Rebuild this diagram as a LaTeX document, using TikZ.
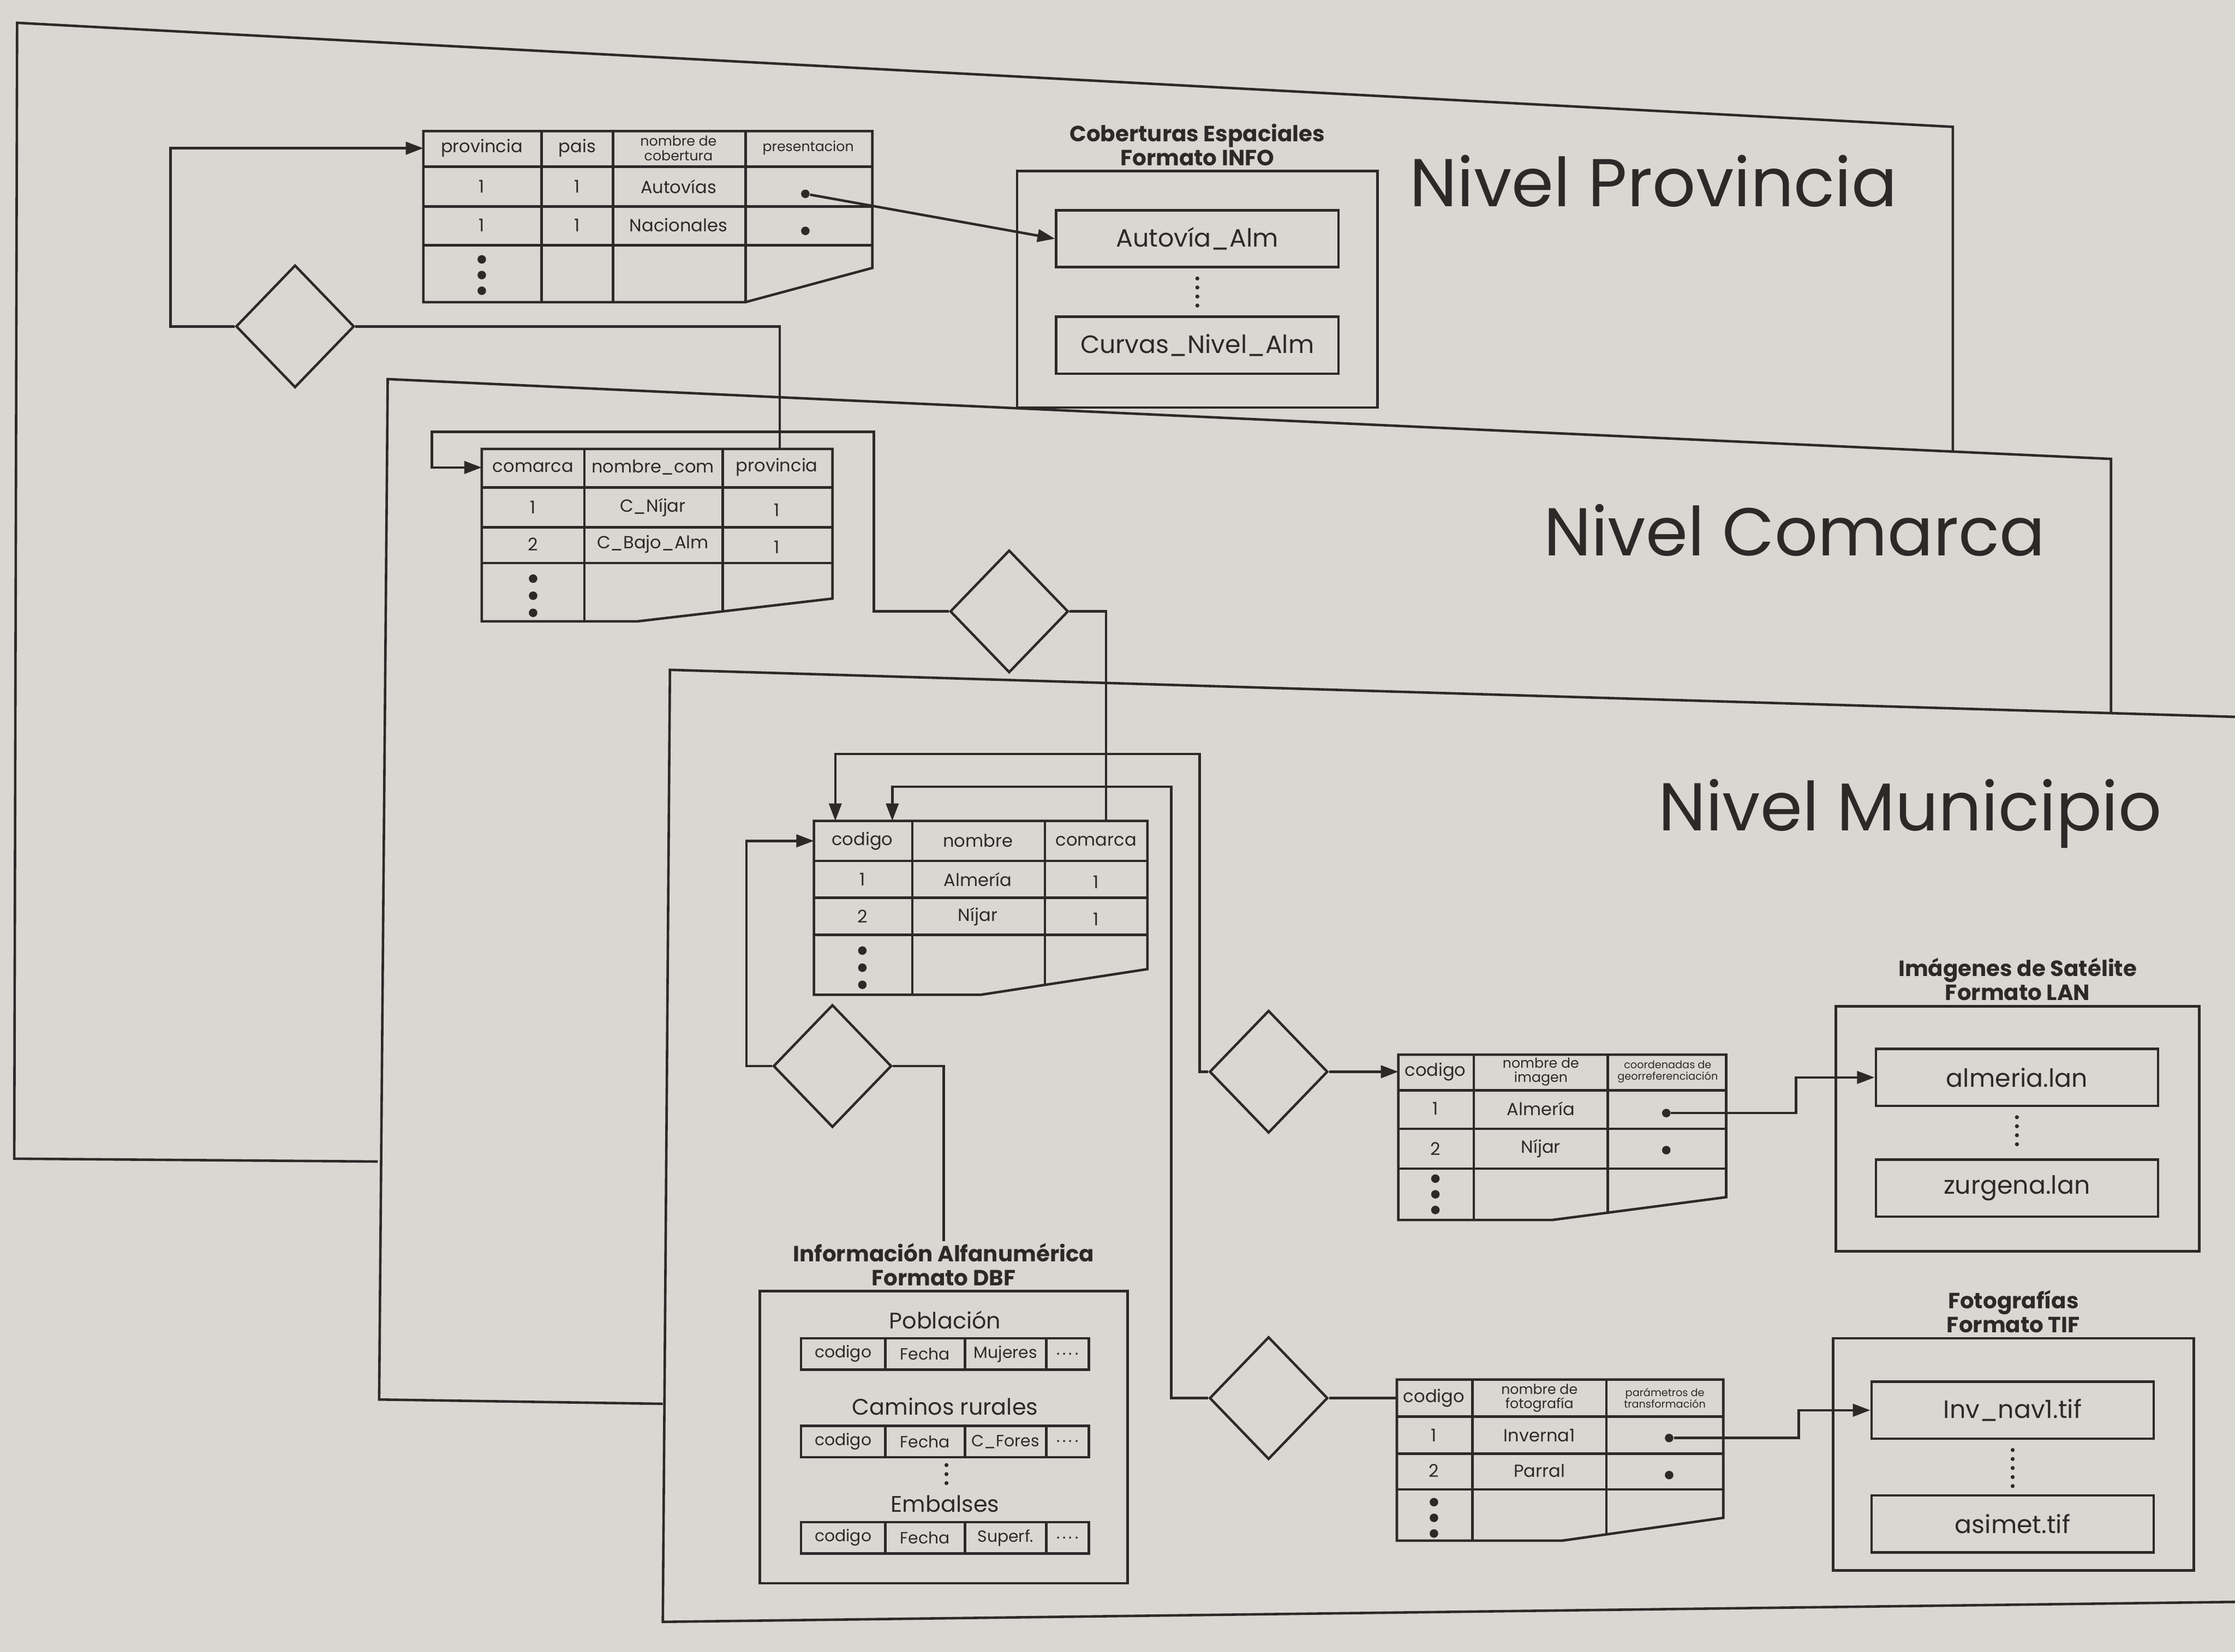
\documentclass[tikz,border=0pt]{standalone}
\usepackage{fontspec}
\setmainfont{Poppins}
\usepackage{tikz}
\usetikzlibrary{arrows.meta, positioning, shapes.geometric, calc}
\definecolor{papel}{RGB}{218,215,210}
\definecolor{tinta}{RGB}{44,42,41}

\begin{document}
\begin{tikzpicture}[
  x=0.02cm, y=-0.02cm,
  linea/.style={draw=tinta, line width=1pt},
  flecha/.style={linea, -{Triangle[length=7pt, width=5pt]}},
  rombo/.style={linea, diamond, minimum width=1.66cm, minimum height=1.72cm, inner sep=0pt},
  marco/.style={linea, rectangle, inner sep=0pt},
  archivo/.style={linea, minimum width=3.96cm, minimum height=0.8cm, inner sep=0pt, text=tinta, font=\fontsize{10}{12}\selectfont},
  titulo/.style={font=\bfseries\fontsize{8.8}{9.6}\selectfont, align=center, inner sep=0.5pt, text=tinta},
  nivel/.style={font=\fontsize{27}{32}\selectfont, text=tinta},
  cab/.style={font=\fontsize{7}{8}\selectfont, inner sep=0pt, text=tinta},
  mini/.style={font=\fontsize{5.5}{5.8}\selectfont, align=center, inner sep=0pt, text=tinta},
  micro/.style={font=\fontsize{4.2}{4.6}\selectfont, align=center, inner sep=0pt, text=tinta},
  dato/.style={font=\fontsize{7}{8}\selectfont, inner sep=0pt, text=tinta},
  etiq/.style={font=\fontsize{9}{10}\selectfont, inner sep=0pt, text=tinta},
  campo/.style={linea, minimum height=0.44cm, inner sep=0pt, text=tinta, font=\fontsize{6.5}{7}\selectfont},
  punto/.style={circle, fill=tinta, inner sep=0pt, minimum size=3.4pt},
  puntos/.style={draw=tinta, line width=1.6pt, line cap=round, dash pattern=on 0pt off 3.6pt}
]
\useasboundingbox (0,0) rectangle (1568,1159);
\fill[papel] (0,0) rectangle (1568,1159);

% Niveles
\draw[linea] (265,815) -- (10,813) -- (12,16) -- (1370,89) -- (1370,317);
\draw[linea] (465,985) -- (266,982) -- (272,266) -- (1481,322) -- (1481,501);
\draw[linea] (1568,1124) -- (465,1138) -- (470,470) -- (1568,503);

\node[nivel] (nprov) at (1160,127) {Nivel Provincia};
\node[nivel] (ncom) at (1259,372) {Nivel Comarca};
\node[nivel] (nmun) at (1340,571) {Nivel Municipio};

% Tabla provincia
\begin{scope}
  \clip (297,92) -- (612,92) -- (612,188) -- (523,212) -- (297,212) -- cycle;
  \foreach \y in {117,145,172} \draw[linea] (297,\y) -- (612,\y);
  \foreach \x in {380,430,523} \draw[linea] (\x,92) -- (\x,215);
\end{scope}
\draw[linea] (297,92) -- (612,92) -- (612,188) -- (523,212) -- (297,212) -- cycle;
\node[cab] (pc1) at (338,104) {provincia};
\node[cab] (pc2) at (405,104) {pais};
\node[mini] (pc3) at (476,104) {nombre de\\cobertura};
\node[mini] (pc4) at (567,104) {presentacion};
\node[dato] (p11) at (338,131) {1};
\node[dato] (p12) at (405,131) {1};
\node[dato] (p13) at (476,131) {Autovías};
\node[punto] (p14) at (565,136) {};
\node[dato] (p21) at (338,158) {1};
\node[dato] (p22) at (405,158) {1};
\node[dato] (p23) at (476,158) {Nacionales};
\node[punto] (p24) at (565,162) {};
\foreach \d in {182,193,204} \fill[tinta] (338,\d) circle (1.7pt);
\coordinate (provin) at (297,104);

% Coberturas
\node[marco, minimum width=5.06cm, minimum height=3.32cm] (cob) at (840,203) {};
\node[titulo, above=1pt of cob] (cobtit) {Coberturas Espaciales\\Formato INFO};
\node[archivo] (autovia) at (840,167.5) {Autovía\_Alm};
\node[archivo, below=0.66cm of autovia] (curvas) {Curvas\_Nivel\_Alm};
\draw[puntos, shorten <=4pt, shorten >=3pt] (autovia) -- (curvas);

% Tabla comarca
\begin{scope}
  \clip (338,315) -- (584,315) -- (584,420) -- (447,436) -- (338,436) -- cycle;
  \foreach \y in {342,370,395} \draw[linea] (338,\y) -- (584,\y);
  \foreach \x in {410,507} \draw[linea] (\x,315) -- (\x,440);
\end{scope}
\draw[linea] (338,315) -- (584,315) -- (584,420) -- (447,436) -- (338,436) -- cycle;
\node[cab] (cc1) at (374,328) {comarca};
\node[cab] (cc2) at (458,328) {nombre\_com};
\node[cab] (cc3) at (545,328) {provincia};
\node[dato] (c11) at (374,356) {1};
\node[dato] (c12) at (458,356) {C\_Níjar};
\node[dato] (c13) at (545,358) {1};
\node[dato] (c21) at (374,382) {2};
\node[dato] (c22) at (458,382) {C\_Bajo\_Alm};
\node[dato] (c23) at (545,384) {1};
\foreach \d in {406,418,430} \fill[tinta] (374,\d) circle (1.7pt);
\coordinate (comin) at (338,328);
\coordinate (comtop) at (547,315);

% Tabla municipio
\begin{scope}
  \clip (571,576) -- (805,576) -- (805,680) -- (688,698) -- (571,698) -- cycle;
  \foreach \y in {604,630,656} \draw[linea] (571,\y) -- (805,\y);
  \foreach \x in {640,733} \draw[linea] (\x,576) -- (\x,700);
\end{scope}
\draw[linea] (571,576) -- (805,576) -- (805,680) -- (688,698) -- (571,698) -- cycle;
\node[cab] (mc1) at (605,590) {codigo};
\node[cab] (mc2) at (686,590) {nombre};
\node[cab] (mc3) at (769,590) {comarca};
\node[dato] (m11) at (605,617) {1};
\node[dato] (m12) at (686,617) {Almería};
\node[dato] (m13) at (769,619) {1};
\node[dato] (m21) at (605,643) {2};
\node[dato] (m22) at (686,643) {Níjar};
\node[dato] (m23) at (769,645) {1};
\foreach \d in {667,679,691} \fill[tinta] (605,\d) circle (1.7pt);
\coordinate (munin) at (571,590);
\coordinate (munc) at (776,576);
\coordinate (mtop1) at (586,576);
\coordinate (mtop2) at (626,576);

% Informacion alfanumerica
\node[marco, minimum width=5.16cm, minimum height=4.1cm] (dbf) at (662,1008.5) {};
\node[titulo, above=1pt of dbf] (dbftit) {Información Alfanumérica\\Formato DBF};
\node[etiq] (pobl) at (663,926) {Población};
\node[campo, minimum width=1.18cm] (pob1) at (591.5,950) {codigo};
\node[campo, minimum width=1.12cm, right=-1pt of pob1] (pob2) {Fecha};
\node[campo, minimum width=1.14cm, right=-1pt of pob2] (pob3) {Mujeres};
\node[campo, minimum width=0.6cm, right=-1pt of pob3] (pob4) {.\,.\,.\,.};
\node[etiq] (camin) at (663,987) {Caminos rurales};
\node[campo, minimum width=1.18cm] (cam1) at (591.5,1011.5) {codigo};
\node[campo, minimum width=1.12cm, right=-1pt of cam1] (cam2) {Fecha};
\node[campo, minimum width=1.14cm, right=-1pt of cam2] (cam3) {C\_Fores};
\node[campo, minimum width=0.6cm, right=-1pt of cam3] (cam4) {.\,.\,.\,.};
\draw[puntos] (664,1028) -- (664,1043);
\node[etiq] (embal) at (663,1055) {Embalses};
\node[campo, minimum width=1.18cm] (emb1) at (591.5,1079) {codigo};
\node[campo, minimum width=1.12cm, right=-1pt of emb1] (emb2) {Fecha};
\node[campo, minimum width=1.14cm, right=-1pt of emb2] (emb3) {Superf.};
\node[campo, minimum width=0.6cm, right=-1pt of emb3] (emb4) {.\,.\,.\,.};

% Tabla imagenes
\begin{scope}
  \clip (981,740) -- (1211,740) -- (1211,840) -- (1089,856) -- (981,856) -- cycle;
  \foreach \y in {765,792,820} \draw[linea] (981,\y) -- (1211,\y);
  \foreach \x in {1034,1128} \draw[linea] (\x,740) -- (\x,860);
\end{scope}
\draw[linea] (981,740) -- (1211,740) -- (1211,840) -- (1089,856) -- (981,856) -- cycle;
\node[cab] (ic1) at (1007,752) {codigo};
\node[mini] (ic2) at (1081,752) {nombre de\\imagen};
\node[micro] (ic3) at (1170,752) {coordenadas de\\georreferenciación};
\node[dato] (i11) at (1007,778) {1};
\node[dato] (i12) at (1081,778) {Almería};
\node[punto] (i13) at (1169,781) {};
\node[dato] (i21) at (1007,806) {2};
\node[dato] (i22) at (1081,806) {Níjar};
\node[punto] (i23) at (1169,807) {};
\foreach \d in {827,838,849} \fill[tinta] (1007,\d) circle (1.7pt);
\coordinate (imgin) at (981,752);

% Imagenes de satelite
\node[marco, minimum width=5.1cm, minimum height=3.44cm] (sat) at (1415.5,792) {};
\node[titulo, above=1pt of sat] (sattit) {Imágenes de Satélite\\Formato LAN};
\node[archivo] (almeria) at (1415,756) {almeria.lan};
\node[archivo, below=0.72cm of almeria] (zurgena) {zurgena.lan};
\draw[puntos, shorten <=4pt, shorten >=3pt] (almeria) -- (zurgena);

% Tabla fotografias
\begin{scope}
  \clip (980,968) -- (1209,968) -- (1209,1065) -- (1096,1081) -- (980,1081) -- cycle;
  \foreach \y in {994,1020,1045} \draw[linea] (980,\y) -- (1209,\y);
  \foreach \x in {1033,1127} \draw[linea] (\x,968) -- (\x,1085);
\end{scope}
\draw[linea] (980,968) -- (1209,968) -- (1209,1065) -- (1096,1081) -- (980,1081) -- cycle;
\node[cab] (fc1) at (1006,981) {codigo};
\node[mini] (fc2) at (1080,981) {nombre de\\fotografía};
\node[micro] (fc3) at (1168,981) {parámetros de\\transformación};
\node[dato] (f11) at (1006,1007) {1};
\node[dato] (f12) at (1080,1007) {Inverna1};
\node[punto] (f13) at (1171,1009) {};
\node[dato] (f21) at (1006,1032) {2};
\node[dato] (f22) at (1080,1032) {Parral};
\node[punto] (f23) at (1171,1035) {};
\foreach \d in {1054,1065,1076} \fill[tinta] (1006,\d) circle (1.7pt);
\coordinate (fotoin) at (980,981);

% Fotografias TIF
\node[marco, minimum width=5.06cm, minimum height=3.26cm] (tif) at (1412.5,1020.5) {};
\node[titulo, above=1pt of tif] (tiftit) {Fotografías\\Formato TIF};
\node[archivo] (invnav) at (1412,989.5) {Inv\_nav1.tif};
\node[archivo, below=0.76cm of invnav] (asimet) {asimet.tif};
\draw[puntos, shorten <=4pt, shorten >=3pt] (invnav) -- (asimet);

% Rombos
\node[rombo] (dprov) at (207,229) {};
\node[rombo] (dcom) at (708,429) {};
\node[rombo] (dmun) at (584,748) {};
\node[rombo] (dimg) at (890,752) {};
\node[rombo] (dfoto) at (890,981) {};

% Conexiones
\draw[flecha] (dprov.west) -- ++(-45,0) |- (provin);
\draw[linea] (dprov.east) -| (comtop);
\draw[flecha] (p14) -- (autovia.west);
\draw[flecha] (dcom.west) -| (613,303) -- (303,303) |- (comin);
\draw[linea] (dcom.east) -| (munc);
\draw[flecha] (dmun.west) -- ++(-18,0) |- (munin);
\draw[linea] (dmun.east) -| (dbftit.north);
\draw[flecha] (dimg.west) -- ++(-6,0) |- (586,529) -- (mtop1);
\draw[flecha] (dfoto.west) -- ++(-26,0) |- (626,552) -- (mtop2);
\draw[flecha] (dimg.east) -- (imgin);
\draw[linea] (dfoto.east) -- (fotoin);
\draw[flecha] (i13) -- ++(91,0) |- (almeria.west);
\draw[flecha] (f13) -- ++(91,0) |- (invnav.west);

\end{tikzpicture}
\end{document}
